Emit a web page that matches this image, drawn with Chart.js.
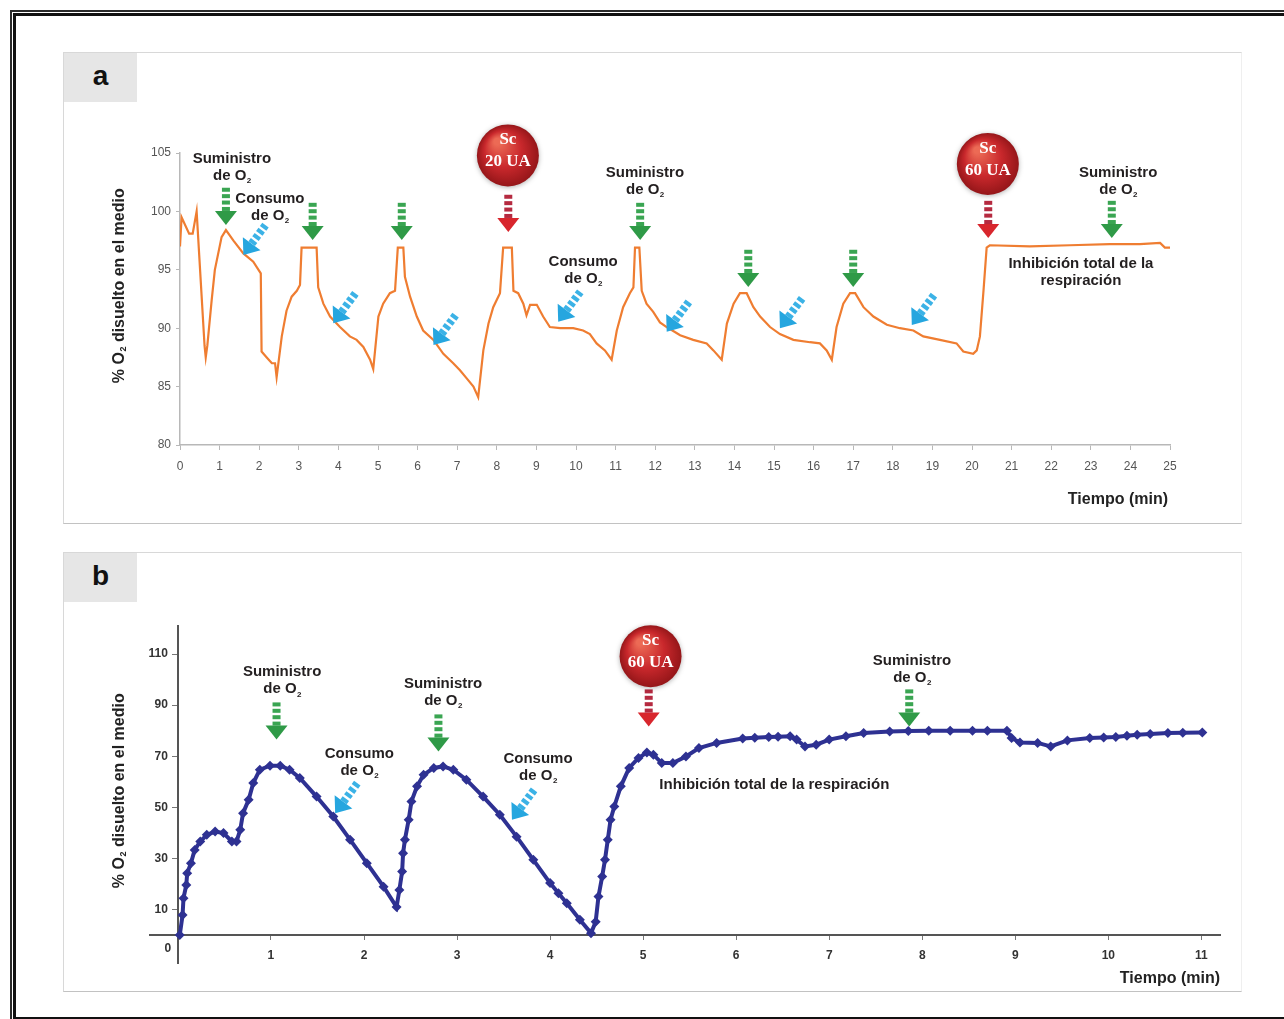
<!DOCTYPE html>
<html lang="es">
<head>
<meta charset="utf-8">
<title>% O2 disuelto en el medio</title>
<script src="https://cdn.jsdelivr.net/npm/chart.js@4.4.1/dist/chart.umd.min.js"></script>
<style>
  html, body { margin: 0; padding: 0; background: #fff; width: 1284px; height: 1019px; overflow: hidden; }
  .marco { position: absolute; left: 10px; top: 10px; width: 1300px; height: 1013px; border: 2px solid #2a2a2a; box-sizing: border-box; }
  .marco-int { position: absolute; left: 1px; top: 1px; right: 1px; bottom: 1px; border: 3.5px solid #111; }
  .panel { position: absolute; left: 63px; width: 1179px; background: #fff; box-sizing: border-box;
           border: 1.5px solid #d8d8d8; border-bottom-color: #c2c2c2; border-right-color: #efefef; }
  #panel-a { top: 52px; height: 472px; }
  #panel-b { top: 552px; height: 440px; }
  .etiqueta { position: absolute; left: 0; top: 0; width: 73px; height: 49px; background: #e6e6e6;
              font: bold 28px "Liberation Sans", Arial, sans-serif; color: #111; text-align: center; line-height: 46px; }
  .lienzo { position: absolute; left: 63px; width: 1179px; }
  #caja-a { top: 52px; height: 471px; }
  #caja-b { top: 552px; height: 439px; }
</style>
</head>
<body>
<div class="marco"><div class="marco-int"></div></div>
<div class="panel" id="panel-a"><div class="etiqueta">a</div></div>
<div class="panel" id="panel-b"><div class="etiqueta">b</div></div>
<div class="lienzo" id="caja-a"><canvas id="graficoA"></canvas></div>
<div class="lienzo" id="caja-b"><canvas id="graficoB"></canvas></div>

<script>
// ---- datos ----
// a: [tiempo (min), % O2]
const curvaA = [
  [0, 97.0], [0.04, 99.5], [0.23, 98.1], [0.32, 98.1], [0.42, 100.0], [0.62, 88.5], [0.65, 87.5], [0.69, 88.5],
  [0.80, 92.4], [0.88, 95.0], [1.05, 97.8], [1.16, 98.4], [1.35, 97.5], [1.60, 96.4], [1.85, 95.7], [2.04, 94.7],
  [2.06, 88.0], [2.19, 87.5], [2.32, 87.0], [2.40, 87.0], [2.44, 85.8], [2.57, 89.3], [2.69, 91.5], [2.82, 92.7],
  [2.95, 93.2], [3.03, 93.7], [3.07, 96.9], [3.45, 96.9], [3.49, 93.5], [3.62, 92.1], [3.79, 91.0], [4.04, 90.1],
  [4.29, 89.3], [4.46, 89.0], [4.63, 88.4], [4.80, 87.3], [4.88, 86.5], [5.01, 91.0], [5.13, 92.1], [5.30, 93.0],
  [5.43, 93.2], [5.50, 96.9], [5.64, 96.9], [5.68, 94.4], [5.81, 92.7], [5.98, 91.0], [6.14, 89.8], [6.40, 89.0],
  [6.65, 87.8], [6.90, 87.0], [7.07, 86.4], [7.24, 85.7], [7.41, 85.0], [7.53, 84.1], [7.66, 88.1], [7.79, 90.4],
  [7.91, 91.8], [8.08, 93.0], [8.16, 96.9], [8.38, 96.9], [8.42, 93.2], [8.54, 93.0], [8.67, 92.1], [8.75, 91.1],
  [8.84, 92.0], [9.01, 92.0], [9.17, 91.0], [9.34, 90.1], [9.60, 90.0], [9.93, 90.0], [10.18, 89.8], [10.35, 89.5],
  [10.52, 88.7], [10.73, 88.1], [10.90, 87.3], [11.03, 89.8], [11.19, 91.8], [11.36, 93.0], [11.45, 93.5], [11.49, 96.9],
  [11.60, 96.9], [11.66, 93.2], [11.78, 92.1], [11.95, 91.4], [12.12, 90.5], [12.29, 90.1], [12.63, 89.4], [12.96, 89.0],
  [13.30, 88.7], [13.47, 88.1], [13.68, 87.3], [13.81, 90.4], [13.98, 92.1], [14.14, 93.0], [14.31, 93.0], [14.48, 91.8],
  [14.65, 91.0], [14.90, 90.1], [15.15, 89.5], [15.49, 89.0], [15.91, 88.8], [16.16, 88.7], [16.33, 88.1], [16.46, 87.3],
  [16.58, 90.1], [16.75, 92.1], [16.92, 93.0], [17.05, 93.0], [17.26, 91.8], [17.51, 91.0], [17.85, 90.3], [18.18, 90.0],
  [18.52, 89.8], [18.77, 89.3], [19.19, 89.0], [19.61, 88.7], [19.78, 88.0], [20.03, 87.8], [20.12, 88.1], [20.20, 89.3],
  [20.29, 93.2], [20.37, 96.9], [20.45, 97.1], [21.46, 97.0], [22.47, 97.1], [23.48, 97.2], [24.24, 97.2], [24.75, 97.3],
  [24.87, 96.9], [25.0, 96.9]
];

// b: [tiempo (min), % O2]
const curvaB = [
  [0.02, 0], [0.05, 7.8], [0.06, 14.4], [0.09, 19.6], [0.10, 24.2], [0.14, 28.1], [0.18, 33.3], [0.24, 36.6],
  [0.31, 39.2], [0.40, 40.5], [0.49, 39.9], [0.58, 36.6], [0.63, 36.6], [0.67, 41.2], [0.70, 47.7], [0.76, 52.9],
  [0.81, 59.5], [0.88, 64.7], [0.99, 66.3], [1.10, 66.3], [1.20, 64.7], [1.31, 61.5], [1.49, 54.2], [1.67, 46.4],
  [1.85, 37.3], [2.03, 28.1], [2.21, 18.9], [2.35, 10.9], [2.38, 17.6], [2.41, 24.8], [2.42, 32.0], [2.44, 37.3],
  [2.48, 45.1], [2.51, 52.3], [2.57, 58.2], [2.64, 62.7], [2.75, 65.4], [2.85, 66.0], [2.96, 64.7], [3.10, 60.8],
  [3.28, 54.2], [3.46, 47.1], [3.64, 38.5], [3.82, 29.4], [4.00, 20.3], [4.09, 16.3], [4.18, 12.4], [4.32, 5.9],
  [4.44, 0.7], [4.49, 5.2], [4.52, 15.0], [4.56, 22.9], [4.59, 29.4], [4.62, 37.3], [4.65, 45.1], [4.69, 50.3],
  [4.76, 58.2], [4.85, 65.4], [4.95, 69.3], [5.04, 71.5], [5.11, 70.6], [5.20, 67.3], [5.32, 67.3], [5.46, 69.9],
  [5.60, 73.2], [5.79, 75.2], [6.07, 76.9], [6.20, 77.2], [6.35, 77.5], [6.45, 77.6], [6.58, 77.8], [6.65, 76.5],
  [6.74, 73.8], [6.86, 74.5], [7.00, 76.5], [7.18, 77.8], [7.37, 79.1], [7.65, 79.7], [7.85, 79.9], [8.07, 80.0],
  [8.30, 80.0], [8.54, 80.0], [8.70, 80.0], [8.91, 80.0], [8.96, 77.1], [9.05, 75.4], [9.24, 75.2], [9.38, 73.8],
  [9.56, 76.2], [9.80, 77.1], [9.95, 77.3], [10.08, 77.5], [10.20, 78.0], [10.31, 78.4], [10.45, 78.7], [10.64, 79.1],
  [10.80, 79.2], [11.01, 79.3]
];

const ticksXB = [1, 2, 3, 4, 5, 6, 7, 8, 9, 10, 11];
const ticksYB = [0, 10, 30, 50, 70, 90, 110];

// anotaciones (puntas de flecha, esferas y textos en coordenadas de datos)
const flechasA = [
  { tipo: 'suministro', t: 1.16, v: 98.84 }, { tipo: 'suministro', t: 3.35, v: 97.55 },
  { tipo: 'suministro', t: 5.60, v: 97.55 }, { tipo: 'suministro', t: 11.62, v: 97.55 },
  { tipo: 'suministro', t: 14.35, v: 93.53 }, { tipo: 'suministro', t: 17.00, v: 93.53 },
  { tipo: 'suministro', t: 23.53, v: 97.72 },
  { tipo: 'sc', t: 8.29, v: 98.24 }, { tipo: 'sc', t: 20.41, v: 97.72 },
  { tipo: 'consumo', t: 1.60, v: 96.27 }, { tipo: 'consumo', t: 3.87, v: 90.42 },
  { tipo: 'consumo', t: 6.40, v: 88.56 }, { tipo: 'consumo', t: 9.55, v: 90.56 },
  { tipo: 'consumo', t: 12.29, v: 89.70 }, { tipo: 'consumo', t: 15.15, v: 89.99 },
  { tipo: 'consumo', t: 18.48, v: 90.27 }
];
const esferasA = [
  { t: 8.28, v: 104.79, texto: ['Sc', '20 UA'] },
  { t: 20.40, v: 104.06, texto: ['Sc', '60 UA'] }
];
const textosA = [
  { t: 1.31, v: 104.14, lineas: ['Suministro', 'de O₂'] },
  { t: 2.27, v: 100.72, lineas: ['Consumo', 'de O₂'] },
  { t: 10.18, v: 95.33, lineas: ['Consumo', 'de O₂'] },
  { t: 11.74, v: 102.95, lineas: ['Suministro', 'de O₂'] },
  { t: 23.69, v: 102.95, lineas: ['Suministro', 'de O₂'] },
  { t: 22.75, v: 95.15, lineas: ['Inhibición total de la', 'respiración'] }
];

const flechasB = [
  { tipo: 'suministro', t: 1.06, v: 76.5 }, { tipo: 'suministro', t: 2.80, v: 71.8 },
  { tipo: 'suministro', t: 7.86, v: 81.6 },
  { tipo: 'sc', t: 5.06, v: 81.6 },
  { tipo: 'consumo', t: 1.69, v: 47.7 }, { tipo: 'consumo', t: 3.59, v: 45.1 }
];
const esferasB = [
  { t: 5.08, v: 109.2, texto: ['Sc', '60 UA'] }
];
const textosB = [
  { t: 1.12, v: 101.3, lineas: ['Suministro', 'de O₂'] },
  { t: 1.95, v: 69.3, lineas: ['Consumo', 'de O₂'] },
  { t: 2.85, v: 96.7, lineas: ['Suministro', 'de O₂'] },
  { t: 3.87, v: 67.3, lineas: ['Consumo', 'de O₂'] },
  { t: 7.89, v: 105.9, lineas: ['Suministro', 'de O₂'] },
  { t: 6.41, v: 57.1, lineas: ['Inhibición total de la respiración'] }
];

// ---- dibujo ----
const FAMILIA = '"Liberation Sans", Arial, Helvetica, sans-serif';
const COLORES = {
  suministro: { head: '#2f9a47', dash: '#3aa552' },
  sc:         { head: '#d8262d', dash: '#b52a40' },
  consumo:    { head: '#26a6df', dash: '#3bb2e6' }
};
const ANG_DIAG = 0.637; // flechas azules apuntan abajo-izquierda

// texto con "₂" dibujado como subíndice
function textoRico(ctx, texto, cx, y, size) {
  const partes = texto.split('₂');
  const fMain = `bold ${size}px ${FAMILIA}`;
  const fSub = `bold ${Math.round(size * 0.55)}px ${FAMILIA}`;
  ctx.font = fMain;
  const anchos = partes.map(p => ctx.measureText(p).width);
  ctx.font = fSub;
  const aSub = ctx.measureText('2').width;
  const total = anchos.reduce((a, b) => a + b, 0) + aSub * (partes.length - 1);
  let xx = cx - total / 2;
  ctx.textAlign = 'left';
  partes.forEach((p, i) => {
    ctx.font = fMain;
    ctx.fillText(p, xx, y);
    xx += anchos[i];
    if (i < partes.length - 1) {
      ctx.font = fSub;
      ctx.fillText('2', xx + 0.5, y + size * 0.22);
      xx += aSub + 0.5;
    }
  });
}

function flecha(ctx, px, py, ang, col) {
  ctx.save();
  ctx.translate(px, py);
  ctx.rotate(ang);
  ctx.fillStyle = col.head;
  ctx.beginPath();
  ctx.moveTo(0, 0);
  ctx.lineTo(-11, -14);
  ctx.lineTo(11, -14);
  ctx.closePath();
  ctx.fill();
  ctx.fillStyle = col.dash;
  for (let k = 0; k < 4; k++) {
    const top = -14 - (k + 1) * 4 - k * 2.4;
    ctx.fillRect(-4, top, 8, 4);
  }
  ctx.restore();
}

function esfera(ctx, cx, cy, r, lineas) {
  ctx.save();
  ctx.shadowColor = 'rgba(0,0,0,0.3)';
  ctx.shadowBlur = 5;
  ctx.shadowOffsetY = 1;
  const g = ctx.createRadialGradient(cx - r * 0.35, cy - r * 0.45, r * 0.1, cx, cy, r);
  g.addColorStop(0, '#ec6a55');
  g.addColorStop(0.55, '#c9282c');
  g.addColorStop(1, '#951619');
  ctx.fillStyle = g;
  ctx.beginPath();
  ctx.arc(cx, cy, r, 0, Math.PI * 2);
  ctx.fill();
  ctx.restore();
  ctx.save();
  ctx.fillStyle = '#fff';
  ctx.font = 'bold 17px "Liberation Serif", "Times New Roman", serif';
  ctx.textAlign = 'center';
  ctx.textBaseline = 'alphabetic';
  ctx.fillText(lineas[0], cx, cy - 11);
  ctx.fillText(lineas[1], cx, cy + 11);
  ctx.restore();
}

const marcasPlugin = {
  id: 'marcas',
  afterDatasetsDraw(chart, args, o) {
    const ctx = chart.ctx;
    const sx = chart.scales.x, sy = chart.scales.y;
    const area = chart.chartArea;
    ctx.save();
    o.flechas.forEach(f => {
      flecha(ctx, sx.getPixelForValue(f.t), sy.getPixelForValue(f.v),
             f.tipo === 'consumo' ? ANG_DIAG : 0, COLORES[f.tipo]);
    });
    o.esferas.forEach(e => esfera(ctx, sx.getPixelForValue(e.t), sy.getPixelForValue(e.v), 31, e.texto));

    ctx.fillStyle = '#231f20';
    ctx.textBaseline = 'alphabetic';
    o.textos.forEach(tx => {
      const px = sx.getPixelForValue(tx.t), py = sy.getPixelForValue(tx.v);
      tx.lineas.forEach((l, i) => textoRico(ctx, l, px, py + i * 17, 15));
    });

    // títulos de ejes
    ctx.fillStyle = '#222';
    ctx.font = `bold 16px ${FAMILIA}`;
    ctx.textAlign = 'right';
    ctx.fillText('Tiempo (min)', area.right + o.tituloX.dx, area.bottom + o.tituloX.dy);
    ctx.save();
    ctx.translate(o.tituloY.x, o.tituloY.y);
    ctx.rotate(-Math.PI / 2);
    ctx.textBaseline = 'middle';
    textoRico(ctx, '% O₂ disuelto en el medio', 0, 0, 16);
    ctx.restore();

    if (o.ceroY) {
      ctx.font = `bold 12px ${FAMILIA}`;
      ctx.fillStyle = '#333';
      ctx.textAlign = 'center';
      ctx.textBaseline = 'middle';
      ctx.fillText('0', sx.getPixelForValue(0) - 10, sy.getPixelForValue(0) + 14);
    }
    ctx.restore();
  }
};

// ---- gráfico a ----
new Chart(document.getElementById('graficoA'), {
  type: 'line',
  data: {
    datasets: [{
      data: curvaA.map(p => ({ x: p[0], y: p[1] })),
      borderColor: '#ef7d31',
      borderWidth: 2.2,
      pointRadius: 0,
      tension: 0,
      fill: false
    }]
  },
  options: {
    responsive: true,
    maintainAspectRatio: false,
    animation: false,
    layout: { padding: { top: 101, right: 72, left: 0, bottom: 0 } },
    plugins: {
      legend: { display: false },
      tooltip: { enabled: false },
      marcas: {
        flechas: flechasA, esferas: esferasA, textos: textosA,
        tituloX: { dx: -2, dy: 59 },
        tituloY: { x: 57, y: 234 }
      }
    },
    scales: {
      x: {
        type: 'linear', min: 0, max: 25,
        ticks: { stepSize: 1, autoSkip: false, maxRotation: 0, color: '#555', padding: 9, font: { size: 12, family: FAMILIA } },
        grid: { drawOnChartArea: false, tickLength: 5, color: '#b8b8b8' },
        border: { color: '#b8b8b8', width: 1.5 },
        afterFit: s => { s.height = 78; }
      },
      y: {
        min: 80, max: 105,
        ticks: { stepSize: 5, color: '#555', padding: 5, font: { size: 12, family: FAMILIA } },
        grid: { drawOnChartArea: false, tickLength: 4, color: '#b8b8b8' },
        border: { color: '#b8b8b8', width: 1.5 },
        afterFit: s => { s.width = 117; }
      }
    }
  },
  plugins: [marcasPlugin]
});

// ---- gráfico b ----
new Chart(document.getElementById('graficoB'), {
  type: 'line',
  data: {
    datasets: [{
      data: curvaB.map(p => ({ x: p[0], y: p[1] })),
      borderColor: '#2e3192',
      borderWidth: 4,
      pointStyle: 'rectRot',
      pointRadius: 5,
      pointBackgroundColor: '#2e3192',
      pointBorderWidth: 0,
      tension: 0,
      fill: false
    }]
  },
  options: {
    responsive: true,
    maintainAspectRatio: false,
    animation: false,
    layout: { padding: { top: 74, right: 22, left: 87, bottom: 28 } },
    plugins: {
      legend: { display: false },
      tooltip: { enabled: false },
      marcas: {
        flechas: flechasB, esferas: esferasB, textos: textosB,
        tituloX: { dx: 0, dy: 20 },
        tituloY: { x: 57, y: 239 },
        ceroY: true
      }
    },
    scales: {
      x: {
        type: 'linear', min: -0.3, max: 11.2, position: { y: 0 },
        afterBuildTicks: s => { s.ticks = ticksXB.map(v => ({ value: v })); },
        ticks: { color: '#333', padding: 10, maxRotation: 0, font: { size: 12, weight: 'bold', family: FAMILIA } },
        grid: { drawOnChartArea: false, tickLength: 4, color: '#777' },
        border: { color: '#555', width: 2 }
      },
      y: {
        min: -11, max: 121, position: { x: 0 },
        afterBuildTicks: s => { s.ticks = ticksYB.map(v => ({ value: v })); },
        // con eje en posición fija la etiqueta queda pegada al eje: espacios finales la separan
        ticks: { color: '#333', font: { size: 12, weight: 'bold', family: FAMILIA },
                 callback: v => (v === 0 ? '' : v + '   ') },
        grid: { drawOnChartArea: false, tickLength: 5, color: '#777' },
        border: { color: '#555', width: 2 }
      }
    }
  },
  plugins: [marcasPlugin]
});
</script>
</body>
</html>
